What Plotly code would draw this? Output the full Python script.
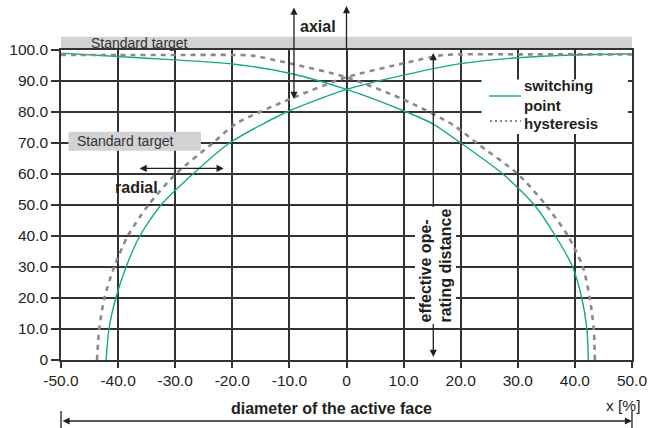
import plotly.graph_objects as go

# ---- data ----
x_ticks = [-50, -40, -30, -20, -10, 0, 10, 20, 30, 40, 50]
x_tick_labels = ["-50.0", "-40.0", "-30.0", "-20.0", "-10.0", "0", "10.0", "20.0", "30.0", "40.0", "50.0"]
y_ticks = [0, 10, 20, 30, 40, 50, 60, 70, 80, 90, 100]
y_tick_labels = ["0", "10.0", "20.0", "30.0", "40.0", "50.0", "60.0", "70.0", "80.0", "90.0", "100.0"]

# switching point – curve rising from the left edge
sw_left_x = [-42.1, -41.6, -40.4, -38.6, -36.2, -32.5, -26.9, -20.5, -15.0, -10.0, 0.0, 10.0, 20.0, 30.0, 40.0, 50.0]
sw_left_y = [0.0, 10.0, 20.0, 30.0, 40.0, 50.0, 60.0, 70.0, 75.8, 80.4, 87.3, 91.9, 95.6, 97.5, 98.4, 98.7]
# switching point – curve rising from the right edge
sw_right_x = [42.35, 42.1, 41.2, 39.6, 36.6, 32.9, 27.4, 20.0, 15.2, 10.0, 0.0, -10.0, -20.0, -30.0, -40.0, -50.0]
sw_right_y = [0.0, 10.0, 20.0, 30.0, 40.0, 50.0, 60.0, 70.0, 76.1, 80.4, 87.3, 92.5, 95.5, 96.8, 97.9, 99.0]

# hysteresis – from the left edge
hy_left_x = [-43.7, -43.3, -42.4, -40.7, -38.3, -34.7, -29.9, -23.4, -19.3, -10.0, 0.0, 10.0, 16.6, 20.0, 30.0, 40.0, 50.0]
hy_left_y = [0.0, 10.0, 20.0, 30.0, 40.0, 50.0, 60.0, 70.0, 76.3, 84.1, 91.2, 95.7, 98.3, 98.6, 98.6, 98.6, 98.6]
# hysteresis – from the right edge
hy_right_x = [43.5, 43.3, 42.6, 41.4, 38.8, 34.9, 30.0, 22.8, 18.7, 10.0, 0.0, -10.0, -16.6, -20.0, -30.0, -40.0, -50.0]
hy_right_y = [0.0, 10.0, 20.0, 30.0, 40.0, 50.0, 60.0, 70.0, 75.8, 84.0, 91.2, 95.7, 98.2, 98.4, 98.4, 98.4, 98.4]

legend_names = ["switching<br>point", "hysteresis"]

GREEN = "#14a88c"
GRAY = "#8a8a8a"
INK = "#231f20"
GRID = "#333333"
FONT = "Liberation Sans, Arial, sans-serif"

# plot area in pixels (for placing the decorations)
L, R, T, B = 61, 632, 50, 360
W, H = R - L, B - T


def px(xp):
    return (xp - L) / W


def py(yp):
    return (B - yp) / H


fig = go.Figure()
fig.add_trace(go.Scatter(x=sw_left_x, y=sw_left_y, mode="lines", name="switching point",
                         line=dict(color=GREEN, width=1.4, shape="spline", smoothing=0.7)))
fig.add_trace(go.Scatter(x=sw_right_x, y=sw_right_y, mode="lines", name="switching point",
                         line=dict(color=GREEN, width=1.4, shape="spline", smoothing=0.7)))
fig.add_trace(go.Scatter(x=hy_left_x, y=hy_left_y, mode="lines", name="hysteresis",
                         line=dict(color=GRAY, width=2.6, dash="5px,5px", shape="spline", smoothing=0.7)))
fig.add_trace(go.Scatter(x=hy_right_x, y=hy_right_y, mode="lines", name="hysteresis",
                         line=dict(color=GRAY, width=2.6, dash="5px,5px", shape="spline", smoothing=0.7)))

shapes = [
    # top grey band "Standard target"
    dict(type="rect", xref="paper", yref="paper", x0=0, x1=1, y0=py(49.3), y1=py(36.7),
         fillcolor="#d1d2d4", line=dict(width=0), layer="below"),
    # second "Standard target" box
    dict(type="rect", xref="x", yref="y", x0=-48.7, x1=-25.5, y0=67.5, y1=73.6,
         fillcolor="#d1d2d4", line=dict(width=0), layer="above"),
    # legend box and samples
    dict(type="rect", xref="paper", yref="paper", x0=px(481.5), x1=px(628), y0=py(134), y1=py(79.5),
         fillcolor="white", line=dict(width=0), layer="above"),
    dict(type="line", xref="paper", yref="paper", x0=px(489), x1=px(521), y0=py(96), y1=py(96),
         line=dict(color=GREEN, width=1.4), layer="above"),
    dict(type="line", xref="paper", yref="paper", x0=px(490), x1=px(521), y0=py(121), y1=py(121),
         line=dict(color=GRAY, width=1.8, dash="2px,3px"), layer="above"),
    # end bars of the diameter arrow
    dict(type="line", xref="paper", yref="paper", x0=0, x1=0, y0=py(411), y1=py(428),
         line=dict(color=INK, width=1.3)),
    dict(type="line", xref="paper", yref="paper", x0=1, x1=1, y0=py(411), y1=py(428),
         line=dict(color=INK, width=1.3)),
]

arrow = dict(showarrow=True, arrowcolor=INK, arrowwidth=1.3, arrowhead=2, arrowsize=1.1, text="")
center = dict(showarrow=False, xanchor="center", yanchor="middle")
annotations = [
    dict(center, text="Standard target", xref="paper", yref="paper", x=px(139.5), y=py(43),
         font=dict(family=FONT, size=14, color="#333")),
    dict(center, text="Standard target", xref="x", yref="y", x=-38.7, y=70.6,
         font=dict(family=FONT, size=14, color="#333")),
    dict(center, text="<b>radial</b>", xref="paper", yref="paper", x=px(136), y=py(187),
         font=dict(family=FONT, size=16, color=INK)),
    dict(center, text="<b>axial</b>", xref="paper", yref="paper", x=px(318), y=py(26),
         font=dict(family=FONT, size=16, color=INK)),
    dict(center, text="x [%]", xref="paper", yref="paper", x=px(623), y=py(405),
         font=dict(family=FONT, size=15.5, color=INK)),
    dict(center, text="<b>diameter of the active face</b>", xref="paper", yref="paper", x=px(331),
         y=py(409), font=dict(family=FONT, size=16, color=INK)),
    # legend texts
    dict(text="<b>" + legend_names[0] + "</b>", xref="paper", yref="paper", x=px(523), y=py(95),
         xanchor="left", yanchor="middle", align="left", showarrow=False, borderpad=0,
         font=dict(family=FONT, size=15, color=INK)),
    dict(text="<b>" + legend_names[1] + "</b>", xref="paper", yref="paper", x=px(523), y=py(123.5),
         xanchor="left", yanchor="middle", showarrow=False, borderpad=0,
         font=dict(family=FONT, size=15, color=INK)),
    # radial double arrow
    dict(arrow, xref="x", yref="y", x=-21.5, y=61.8, axref="x", ayref="y", ax=-36.5, ay=61.8,
         arrowside="end+start"),
    # axial double arrow
    dict(arrow, xref="x", yref="paper", x=-9.2, y=py(99), axref="pixel", ayref="pixel",
         ax=0, ay=-93, arrowside="end+start"),
    # y-axis style arrow at x = 0
    dict(arrow, xref="x", yref="paper", x=0, y=py(6), axref="pixel", ayref="pixel",
         ax=0, ay=44, arrowside="end"),
    # effective operating distance arrow
    dict(arrow, xref="x", yref="y", x=15.2, y=1.0, axref="x", ayref="y", ax=15.2, ay=99.5,
         arrowside="end+start"),
    dict(text="<b>effective ope-<br>rating distance</b>", xref="paper", yref="paper", x=px(435), y=py(265.5),
         xanchor="center", yanchor="middle",
         textangle=-90, align="left", showarrow=False, bgcolor="white", borderpad=1,
         font=dict(family=FONT, size=16, color=INK)),
    # diameter arrow
    dict(arrow, xref="paper", yref="paper", x=1, y=py(421), axref="pixel", ayref="pixel",
         ax=-W, ay=0, arrowside="end+start"),
]

fig.update_layout(
    template="none",
    width=649, height=428,
    margin=dict(l=L, r=649 - R, t=T, b=428 - B, pad=0, autoexpand=False),
    paper_bgcolor="white", plot_bgcolor="white",
    font=dict(family=FONT, size=15.5, color=INK),
    shapes=shapes, annotations=annotations,
    showlegend=False,
)
fig.update_xaxes(range=[-50, 50], tickvals=x_ticks, ticktext=x_tick_labels, automargin=False,
                 showgrid=True, gridcolor=GRID, gridwidth=1.5, zeroline=False,
                 showline=True, mirror=True, linecolor=GRID, linewidth=1.5,
                 ticks="outside", ticklen=6, tickwidth=1.5, tickcolor=GRID,
                 tickfont=dict(family=FONT, size=15.5, color=INK))
fig.update_yaxes(range=[0, 100], tickvals=y_ticks, ticktext=y_tick_labels, automargin=False,
                 showgrid=True, gridcolor=GRID, gridwidth=1.8, zeroline=False,
                 showline=True, mirror=True, linecolor=GRID, linewidth=1.5,
                 ticks="outside", ticklen=8, tickwidth=1.5, tickcolor=GRID,
                 tickfont=dict(family=FONT, size=15.5, color=INK))

fig.write_html("out.html", config={"displayModeBar": False},
               post_script="document.body.style.margin='0';")
